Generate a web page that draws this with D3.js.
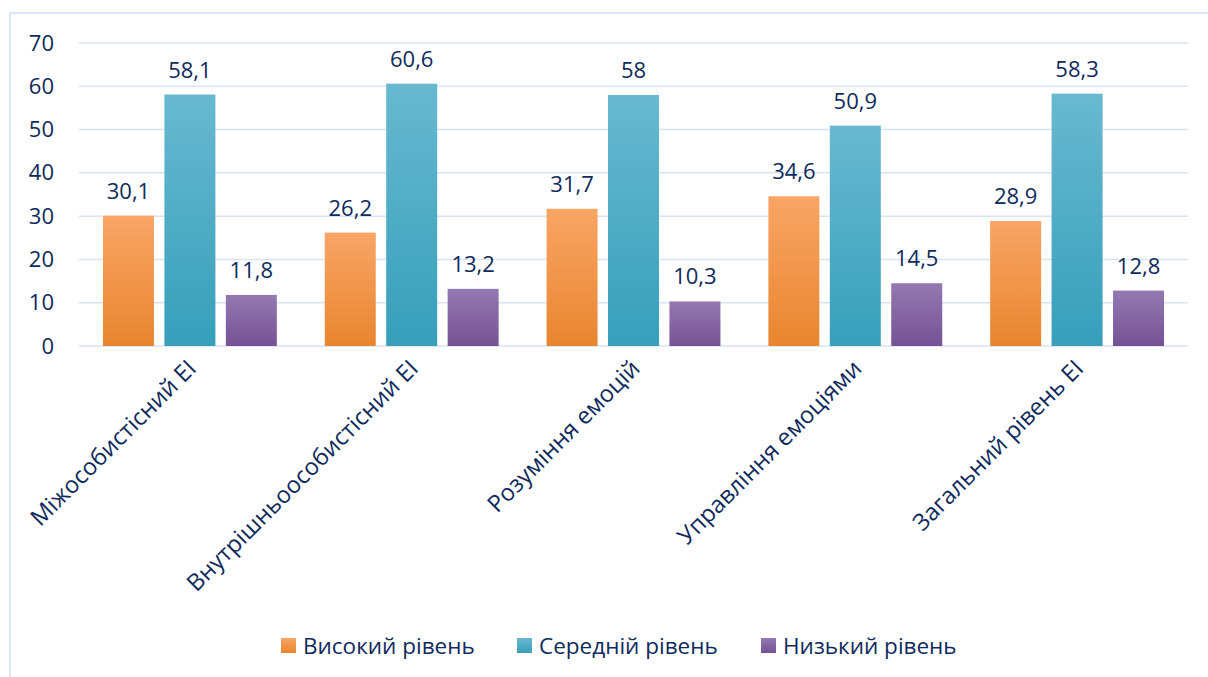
<!DOCTYPE html>
<html>
<head>
<meta charset="utf-8">
<script src="https://cdn.jsdelivr.net/npm/d3@7"></script>
<style>
  body { margin: 0; background: #fff; }
  text { font-family: "Open Sans", Lato, sans-serif; fill: #0f2a5c; }
</style>
</head>
<body>
<svg id="chart" width="1208" height="677"></svg>
<script>
// categories and series
var categories = ["Міжособистісний ЕІ", "Внутрішньоособистісний ЕІ", "Розуміння емоцій", "Управління емоціями", "Загальний рівень ЕІ"];
var seriesNames = ["Високий рівень", "Середній рівень", "Низький рівень"];
var high = [30.1, 26.2, 31.7, 34.6, 28.9];
var mid = [58.1, 60.6, 58, 50.9, 58.3];
var low = [11.8, 13.2, 10.3, 14.5, 12.8];
var yTicks = [0, 10, 20, 30, 40, 50, 60, 70];

var seriesValues = [high, mid, low];
var gradients = [
  ["#f9a566", "#e8862f"],
  ["#68b9d0", "#379fba"],
  ["#9479b1", "#755294"]
];

var svg = d3.select("#chart");

// frame (only top and left edges visible)
svg.append("rect")
  .attr("x", 10).attr("y", 13)
  .attr("width", 1400).attr("height", 1000)
  .attr("fill", "none")
  .attr("stroke", "#dbe5f3")
  .attr("stroke-width", 2);

var defs = svg.append("defs");
gradients.forEach(function(g, i) {
  var lg = defs.append("linearGradient")
    .attr("id", "grad" + i)
    .attr("x1", 0).attr("y1", 0).attr("x2", 0).attr("y2", 1);
  lg.append("stop").attr("offset", "0%").attr("stop-color", g[0]);
  lg.append("stop").attr("offset", "100%").attr("stop-color", g[1]);
});

var plotLeft = 79, plotRight = 1188, plotTop = 43, plotBottom = 346;

var x0 = d3.scaleBand().domain(categories).range([plotLeft, plotRight]).padding(0);
var x1 = d3.scaleBand().domain(seriesNames).range([0, x0.bandwidth()])
  .paddingInner(0.17).paddingOuter(0.39);
var y = d3.scaleLinear().domain([0, 70]).range([plotBottom, plotTop]);

// gridlines
svg.append("g")
  .selectAll("line")
  .data(yTicks)
  .enter()
  .append("line")
  .attr("x1", plotLeft).attr("x2", plotRight)
  .attr("y1", function(d) { return y(d); })
  .attr("y2", function(d) { return y(d); })
  .attr("stroke", "#d9e3f2")
  .attr("stroke-width", 1.5);

// y axis labels
var yAxis = d3.axisLeft(y).tickValues(yTicks).tickSize(0).tickPadding(0);
var yg = svg.append("g")
  .attr("transform", "translate(54,0)")
  .call(yAxis);
yg.select(".domain").remove();
yg.selectAll("text")
  .attr("font-size", 22)
  .attr("fill", "#0f2a5c")
  .style("font-family", "'Open Sans', sans-serif");

// bars
var fmt = function(v) { return String(v).replace(".", ","); };

categories.forEach(function(c, ci) {
  var g = svg.append("g").attr("transform", "translate(" + x0(c) + ",0)");
  var rows = seriesNames.map(function(s, si) {
    return { s: s, si: si, v: seriesValues[si][ci] };
  });
  g.selectAll("rect")
    .data(rows)
    .enter()
    .append("rect")
    .attr("x", function(d) { return x1(d.s); })
    .attr("y", function(d) { return y(d.v); })
    .attr("width", x1.bandwidth())
    .attr("height", function(d) { return y(0) - y(d.v); })
    .attr("fill", function(d) { return "url(#grad" + d.si + ")"; });
  g.selectAll(".val")
    .data(rows)
    .enter()
    .append("text")
    .attr("class", "val")
    .attr("x", function(d) { return x1(d.s) + x1.bandwidth() / 2; })
    .attr("y", function(d) { return y(d.v) - 17; })
    .attr("text-anchor", "middle")
    .attr("font-size", 22)
    .text(function(d) { return fmt(d.v); });
});

// category labels
svg.append("g")
  .selectAll("text")
  .data(categories)
  .enter()
  .append("text")
  .attr("transform", function(d) {
    return "translate(" + (x0(d) + x0.bandwidth() / 2 + 2) + ",364) rotate(-45)";
  })
  .attr("text-anchor", "end")
  .attr("dy", "0.35em")
  .attr("font-size", 23.5)
  .text(function(d) { return d; });

// legend
var legendX = [281, 517, 761];
var legend = svg.append("g");
seriesNames.forEach(function(s, i) {
  legend.append("rect")
    .attr("x", legendX[i]).attr("y", 638)
    .attr("width", 15).attr("height", 15)
    .attr("fill", "url(#grad" + i + ")");
  legend.append("text")
    .attr("x", legendX[i] + 22).attr("y", 646)
    .attr("dy", "0.35em")
    .attr("font-size", 22.5)
    .text(s);
});
</script>
</body>
</html>
